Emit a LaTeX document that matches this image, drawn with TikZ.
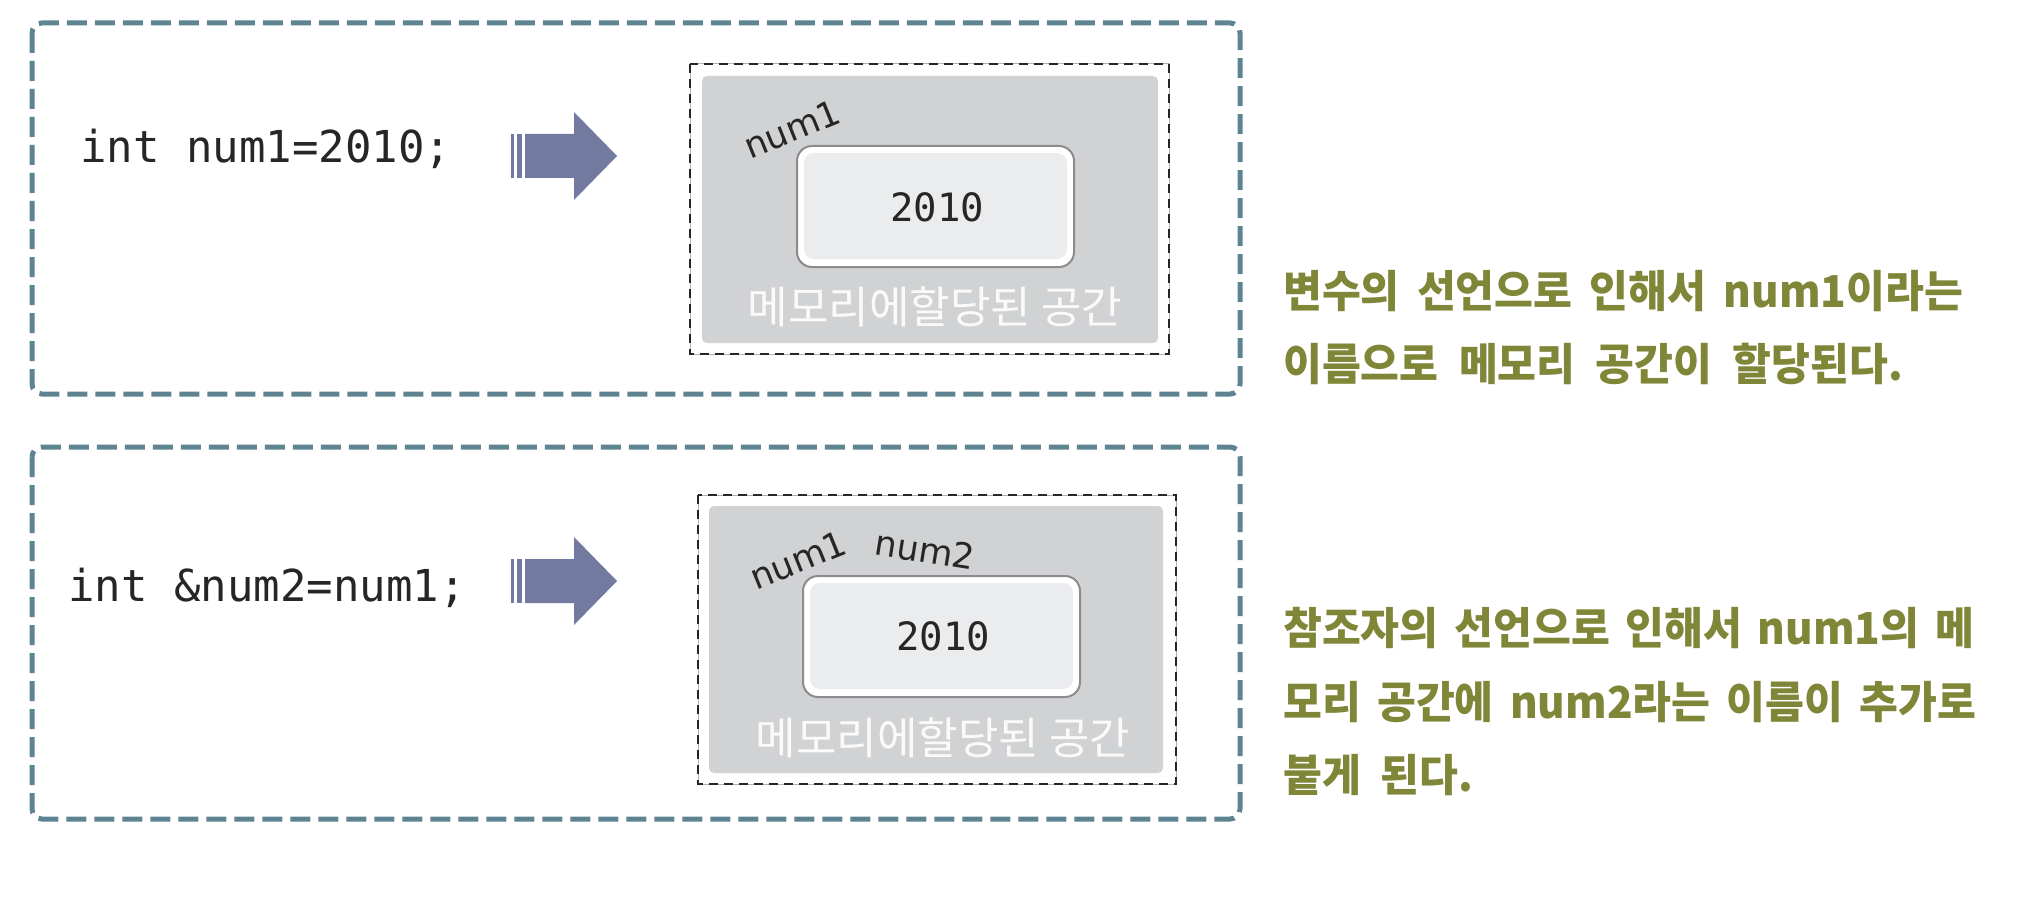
\documentclass[tikz,border=0pt]{standalone}
\usepackage{fontspec}
\newfontfamily\krfont{Noto Sans CJK KR}
\newfontfamily\krbold{Noto Sans CJK KR}[FakeStretch=0.96]
\newfontfamily\codefont{DejaVu Sans Mono}
\newfontfamily\labfont{DejaVu Sans}
\definecolor{boxteal}{RGB}{95,132,145}
\definecolor{arrowcol}{RGB}{115,122,160}
\definecolor{memgrey}{RGB}{209,210,212}
\definecolor{valfill}{RGB}{235,236,238}
\definecolor{valedge}{RGB}{140,140,142}
\definecolor{olivetxt}{RGB}{127,134,56}
\newcommand\jsp{\hspace{0pt plus 1fil}}
\begin{document}
\begin{tikzpicture}[x=1pt,y=-1pt,
  outerbox/.style={draw=boxteal,line width=5pt,dash pattern=on 20pt off 8pt,rounded corners=10pt},
  memline/.style={draw=black!30,line width=1pt},
  memdash/.style={draw=black!85,line width=2pt,dash pattern=on 9pt off 6pt},
  memfill/.style={fill=memgrey,rounded corners=5pt},
  valouter/.style={draw=valedge,line width=2pt,fill=white,rounded corners=15pt},
  valinner/.style={fill=valfill,rounded corners=10pt},
  code/.style={font=\codefont\fontsize{44}{50}\selectfont,text=black!85,inner sep=0pt},
  valtext/.style={font=\codefont\fontsize{39}{46}\selectfont,text=black!85,inner sep=0pt},
  numlab/.style={font=\labfont\fontsize{35}{40}\selectfont,text=black!85,inner sep=0pt},
  memlab/.style={font=\krfont\fontsize{44}{50}\selectfont,text=white!96!gray,inner sep=0pt},
  desc/.style={font=\krbold\bfseries\fontsize{44}{50}\selectfont,text=olivetxt,inner sep=0pt,anchor=west},
  blockarrow/.pic={
    \fill[arrowcol] (-106,-22) rectangle (-103,22);
    \fill[arrowcol] (-100,-22) rectangle (-95,22);
    \fill[arrowcol] (-92,-22) -- (-43,-22) -- (-43,-44) -- (0,0) -- (-43,44) -- (-43,22) -- (-92,22) -- cycle;
  }]
\useasboundingbox (0,0) rectangle (2036,904);
\fill[white] (0,0) rectangle (2036,904);

% ---------- panel 1 ----------
\draw[outerbox] (32,23) rectangle (1240,394);
\node[code,anchor=base west] (code1) at (80,163) {int num1=2010;};
\pic at (617,156) {blockarrow};
\draw[memline] (690,64) rectangle (1169,354);
\draw[memdash] (690,64) rectangle (1169,354);
\fill[memfill] (702,76) rectangle (1158,343);
\draw[valouter] (797,146) rectangle (1074,267);
\fill[valinner] (804,153) rectangle (1067,259);
\node[valtext] (val1) at (937,207) {2010};
\node[numlab,rotate=22] (n1a) at (792,129) {num1};
\node[memlab] (mem1) at (935,307) {메모리에할당된 공간};

% ---------- panel 2 ----------
\draw[outerbox] (32,447) rectangle (1240,819);
\node[code,anchor=base west] (code2) at (68,601) {int \&num2=num1;};
\pic at (617,581) {blockarrow};
\draw[memline] (698,495) rectangle (1176,784);
\draw[memdash] (698,495) rectangle (1176,784);
\fill[memfill] (709,506) rectangle (1163,773);
\draw[valouter] (803,576) rectangle (1080,697);
\fill[valinner] (810,583) rectangle (1073,689);
\node[valtext] (val2) at (943,636) {2010};
\node[numlab,rotate=22] (n1b) at (798,560) {num1};
\node[numlab,rotate=-9] (n2b) at (925,550) {num2};
\node[memlab] (mem2) at (943,738) {메모리에할당된 공간};

% ---------- descriptions ----------
\node[desc] (d1a) at (1283,291) {\makebox[680pt][s]{변수의\jsp 선언으로\jsp 인해서\jsp num1이라는}};
\node[desc] (d1b) at (1283,364) {\makebox[620pt][s]{이름으로\jsp 메모리\jsp 공간이\jsp 할당된다.}};
\node[desc] (d2a) at (1283,628) {\makebox[691pt][s]{참조자의\jsp 선언으로\jsp 인해서\jsp num1의\jsp 메}};
\node[desc] (d2b) at (1283,702) {\makebox[693pt][s]{모리\jsp 공간에\jsp num2라는\jsp 이름이\jsp 추가로}};
\node[desc] (d2c) at (1283,775) {붙게\hspace{20pt}된다.};
\end{tikzpicture}
\end{document}
